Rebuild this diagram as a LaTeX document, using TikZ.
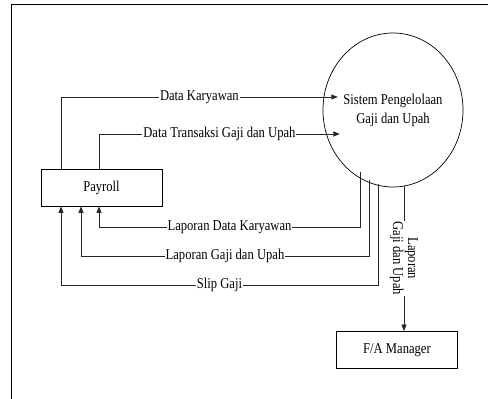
\documentclass[tikz,border=0pt]{standalone}
\usepackage{fontspec}
\setmainfont[FakeStretch=0.84]{Liberation Serif}
\usetikzlibrary{arrows.meta,shapes.geometric}
\begin{document}
\begin{tikzpicture}[x=1pt,y=-1pt,
  every node/.style={font=\fontsize{15}{15}\selectfont},
  flow/.style={line width=0.7pt,draw=black!85,-{Triangle[length=6.5pt,width=5pt]}},
  boxnode/.style={draw,line width=0.8pt,minimum width=121pt,minimum height=37pt,inner sep=0pt},
  lbl/.style={fill=white,inner sep=1pt}]
\useasboundingbox (0,0) rectangle (488,399);
\draw[line width=1pt] (11.5,399) -- (11.5,4.5) -- (488,4.5);

\node[draw,ellipse,line width=0.7pt,minimum width=112pt,minimum height=154pt,inner sep=0pt,align=center,
  font=\fontsize{15}{19}\selectfont] (sys) at (393,110) {Sistem Pengelolaan\\Gaji dan Upah};
\node[boxnode] (pay) at (101.5,187.5) {Payroll};
\node[boxnode] (fam) at (397,350) {F/A Manager};

% points on ellipse
\coordinate (e1) at (337.8,97);
\coordinate (e2) at (339.8,134);
\coordinate (b1) at (360,172.2);
\coordinate (b2) at (369,179.6);
\coordinate (b3) at (378,184.2);
\coordinate (b4) at (404,185.5);

\draw[flow] (pay.north -| 61,0) |- (e1)
  node[lbl,pos=0.75] {Data Karyawan};
\draw[flow] (pay.north -| 99,0) |- (e2)
  node[lbl,pos=0.75] {Data Transaksi Gaji dan Upah};
\draw[flow] (b1) |- (99,227) node[lbl,pos=0.75] {Laporan Data Karyawan} -- (pay.south -| 99,0);
\draw[flow] (b2) |- (81,256) node[lbl,pos=0.75] {Laporan Gaji dan Upah} -- (pay.south -| 81,0);
\draw[flow] (b3) |- (61,285) node[lbl,pos=0.75] {Slip Gaji} -- (pay.south -| 61,0);
\draw[flow] (b4) -- (fam.north -| b4)
  node[lbl,midway,rotate=-90,align=center] (lv) {Laporan\\Gaji dan Upah};
\end{tikzpicture}
\end{document}
